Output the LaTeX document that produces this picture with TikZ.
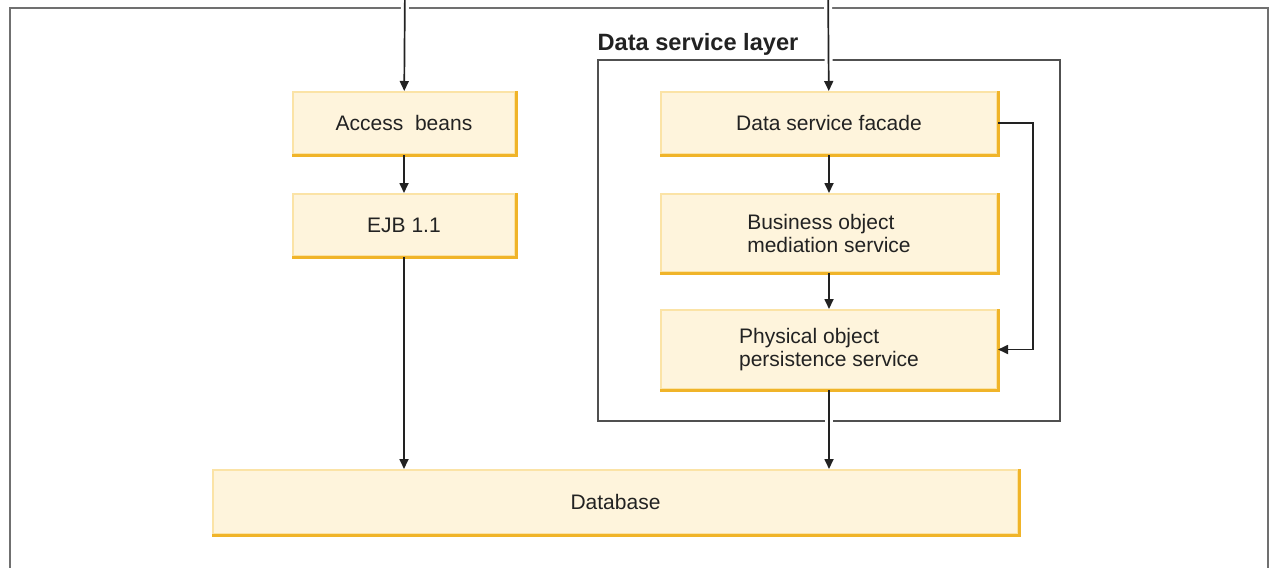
\documentclass[tikz,border=0pt]{standalone}
\usepackage{fontspec}
\setmainfont{Liberation Sans}
\usetikzlibrary{arrows.meta,positioning,fit}
\definecolor{ink}{HTML}{222222}
\definecolor{frame}{HTML}{707070}
\definecolor{frame2}{HTML}{505050}
\definecolor{beanfill}{HTML}{FEF4DC}
\definecolor{beanlite}{HTML}{FBE3A6}
\definecolor{beandark}{HTML}{F0B429}
\tikzset{
  box/.style={draw=beanlite,fill=beanfill,line width=1pt,minimum height=31pt,minimum width=111pt,align=left,font=\fontsize{10.5}{11.5}\selectfont,text=ink,inner sep=0pt},
  wide/.style={box,minimum width=168pt},
  edge/.style={draw=beandark,line width=1.5pt},
  arr/.style={-{Triangle[length=5pt,width=4.5pt]},draw=ink,line width=0.85pt,preaction={draw=white,line width=4pt,-,shorten >=5pt,shorten <=5pt}},
  frm/.style={draw=frame,line width=1.25pt},
  layerlab/.style={font=\bfseries\fontsize{11.8}{13}\selectfont,text=ink,inner sep=0pt,anchor=south west},
}
\begin{document}
\begin{tikzpicture}[x=0.5pt,y=-0.5pt]
  \useasboundingbox (0,0) rectangle (1272,567);
  \clip (0,0) rectangle (1272,567);
  % outer frame, bottom edge runs off the page
  \draw[frm] (10,600) |- (1268,8) -- (1268,600);
  \coordinate (inA) at (405,-20);
  \coordinate (inB) at (828,-20);

  \node[box] (access) at (404,123) {Access~~beans};
  \node[box,below=19pt of access] (ejb) {EJB 1.1};
  \node[wide] (facade) at (829,123) {Data service facade};
  \node[wide,minimum height=39pt,below=19pt of facade] (bizobj) {Business object\\mediation service};
  \node[wide,minimum height=39.5pt,below=18pt of bizobj] (physobj) {Physical object\\persistence service};
  \node[box,minimum width=402.5pt,minimum height=32pt] (database) at (615.5,502) {Database};
  \foreach \n in {access,ejb,facade,bizobj,physobj,database}
    \draw[edge] (\n.north east) -- (\n.south east) -- (\n.south west);

  \node[draw=frame2,line width=0.75pt,fit=(facade)(physobj),inner xsep=31pt,inner ysep=15.5pt] (dsl) {};
  \node[layerlab] (dsllab) at ([yshift=1.5pt]dsl.north west) {Data service layer};

  \draw[arr] (inA) -- (access);
  \draw[arr] (access) -- (ejb);
  \draw[arr] (ejb) -- (ejb |- database.north);
  \draw[arr] (inB) -- (facade);
  \draw[arr] (facade) -- (bizobj);
  \draw[arr] (bizobj) -- (physobj);
  \draw[arr] (physobj) -- (physobj |- database.north);
  \draw[arr] (facade.east) -- ++(17.5pt,0) |- (physobj.east);
\end{tikzpicture}
\end{document}
